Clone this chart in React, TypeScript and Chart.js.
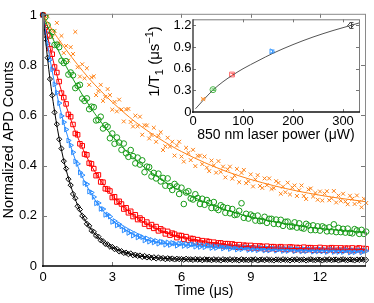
import React, { useEffect, useRef } from 'react';
import { Chart, registerables } from 'chart.js';
Chart.register(...registerables);

const FONT = "'Liberation Sans', Arial, Helvetica, sans-serif";

// sampling times (μs)
const TIME = [
  0, 0.1, 0.2, 0.3, 0.4, 0.5, 0.6, 0.7, 0.8, 0.9,
  1, 1.1, 1.2, 1.3, 1.4, 1.5, 1.6, 1.7, 1.8, 1.9,
  2, 2.1, 2.2, 2.3, 2.4, 2.5, 2.6, 2.7, 2.8, 2.9,
  3, 3.1, 3.2, 3.3, 3.4, 3.5, 3.6, 3.7, 3.8, 3.9,
  4, 4.1, 4.2, 4.3, 4.4, 4.5, 4.6, 4.7, 4.8, 4.9,
  5, 5.1, 5.2, 5.3, 5.4, 5.5, 5.6, 5.7, 5.8, 5.9,
  6, 6.1, 6.2, 6.3, 6.4, 6.5, 6.6, 6.7, 6.8, 6.9,
  7, 7.1, 7.2, 7.3, 7.4, 7.5, 7.6, 7.7, 7.8, 7.9,
  8, 8.1, 8.2, 8.3, 8.4, 8.5, 8.6, 8.7, 8.8, 8.9,
  9, 9.1, 9.2, 9.3, 9.4, 9.5, 9.6, 9.7, 9.8, 9.9,
  10, 10.1, 10.2, 10.3, 10.4, 10.5, 10.6, 10.7, 10.8, 10.9,
  11, 11.1, 11.2, 11.3, 11.4, 11.5, 11.6, 11.7, 11.8, 11.9,
  12, 12.1, 12.2, 12.3, 12.4, 12.5, 12.6, 12.7, 12.8, 12.9,
  13, 13.1, 13.2, 13.3, 13.4, 13.5, 13.6, 13.7, 13.8, 13.9,
  14,
];

const BLACK = [
  1.0, 0.905, 0.83, 0.745, 0.68, 0.612, 0.565, 0.505, 0.468, 0.418,
  0.388, 0.346, 0.322, 0.287, 0.27, 0.238, 0.225, 0.2, 0.19, 0.168,
  0.16, 0.141, 0.136, 0.12, 0.117, 0.102, 0.099, 0.088, 0.086, 0.077,
  0.076, 0.067, 0.068, 0.058, 0.059, 0.052, 0.053, 0.047, 0.05, 0.043,
  0.045, 0.04, 0.042, 0.036, 0.04, 0.034, 0.037, 0.032, 0.035, 0.03,
  0.034, 0.03, 0.032, 0.027, 0.031, 0.028, 0.03, 0.026, 0.029, 0.027,
  0.028, 0.025, 0.029, 0.026, 0.027, 0.024, 0.028, 0.025, 0.027, 0.023,
  0.027, 0.025, 0.026, 0.023, 0.027, 0.024, 0.026, 0.022, 0.027, 0.025,
  0.024, 0.027, 0.023, 0.026, 0.025, 0.022, 0.027, 0.024, 0.025, 0.023,
  0.026, 0.024, 0.027, 0.022, 0.025, 0.026, 0.023, 0.027, 0.024, 0.025,
  0.022, 0.026, 0.025, 0.023, 0.027, 0.024, 0.025, 0.022, 0.026, 0.024,
  0.027, 0.023, 0.025, 0.026, 0.022, 0.025, 0.027, 0.024, 0.023, 0.026,
  0.025, 0.022, 0.026, 0.024, 0.027, 0.023, 0.025, 0.026, 0.022, 0.025,
  0.027, 0.024, 0.023, 0.026, 0.025, 0.022, 0.026, 0.024, 0.027, 0.025,
  0.024,
];

const BLUE = [
  1.0, 0.932, 0.888, 0.822, 0.784, 0.724, 0.691, 0.649, 0.598, 0.573,
  0.544, 0.5, 0.481, 0.453, 0.417, 0.407, 0.373, 0.362, 0.331, 0.326,
  0.297, 0.293, 0.275, 0.25, 0.251, 0.228, 0.227, 0.204, 0.205, 0.197,
  0.176, 0.179, 0.162, 0.166, 0.158, 0.142, 0.147, 0.132, 0.137, 0.121,
  0.128, 0.114, 0.119, 0.115, 0.102, 0.11, 0.097, 0.104, 0.094, 0.1,
  0.089, 0.097, 0.095, 0.085, 0.094, 0.084, 0.092, 0.09, 0.081, 0.089,
  0.09, 0.08, 0.088, 0.08, 0.086, 0.086, 0.077, 0.085, 0.076, 0.083,
  0.075, 0.082, 0.081, 0.072, 0.081, 0.072, 0.079, 0.079, 0.07, 0.076,
  0.076, 0.068, 0.076, 0.074, 0.066, 0.075, 0.067, 0.073, 0.073, 0.064,
  0.073, 0.065, 0.071, 0.063, 0.072, 0.069, 0.062, 0.071, 0.062, 0.069,
  0.069, 0.061, 0.067, 0.069, 0.06, 0.068, 0.06, 0.068, 0.067, 0.059,
  0.067, 0.065, 0.058, 0.067, 0.059, 0.066, 0.065, 0.057, 0.064, 0.058,
  0.066, 0.058, 0.064, 0.056, 0.063, 0.065, 0.056, 0.063, 0.056, 0.064,
  0.056, 0.063, 0.063, 0.054, 0.063, 0.055, 0.061, 0.063, 0.054, 0.061,
  0.06,
];

const RED = [
  1.0, 0.95, 0.921, 0.866, 0.844, 0.793, 0.771, 0.735, 0.689, 0.671,
  0.646, 0.604, 0.595, 0.564, 0.528, 0.523, 0.487, 0.479, 0.446, 0.443,
  0.41, 0.407, 0.388, 0.36, 0.363, 0.335, 0.334, 0.308, 0.306, 0.299,
  0.273, 0.276, 0.255, 0.258, 0.247, 0.227, 0.232, 0.212, 0.218, 0.197,
  0.204, 0.185, 0.191, 0.184, 0.167, 0.175, 0.158, 0.165, 0.15, 0.157,
  0.14, 0.148, 0.142, 0.128, 0.138, 0.123, 0.131, 0.127, 0.113, 0.122,
  0.121, 0.107, 0.117, 0.103, 0.11, 0.109, 0.096, 0.105, 0.094, 0.101,
  0.091, 0.099, 0.097, 0.085, 0.095, 0.084, 0.092, 0.092, 0.08, 0.089,
  0.089, 0.078, 0.088, 0.085, 0.075, 0.085, 0.075, 0.083, 0.082, 0.072,
  0.082, 0.072, 0.08, 0.07, 0.08, 0.078, 0.068, 0.079, 0.068, 0.077,
  0.077, 0.067, 0.075, 0.077, 0.066, 0.075, 0.066, 0.076, 0.075, 0.064,
  0.074, 0.073, 0.064, 0.075, 0.064, 0.073, 0.073, 0.063, 0.072, 0.064,
  0.074, 0.063, 0.072, 0.062, 0.071, 0.073, 0.062, 0.072, 0.063, 0.072,
  0.063, 0.071, 0.071, 0.061, 0.072, 0.062, 0.07, 0.072, 0.061, 0.07,
  0.069,
];

const GREEN = [
  1.0, 0.992, 0.96, 0.918, 0.932, 0.881, 0.882, 0.872, 0.818, 0.809,
  0.816, 0.763, 0.771, 0.76, 0.709, 0.718, 0.722, 0.667, 0.658, 0.668,
  0.625, 0.635, 0.633, 0.58, 0.582, 0.595, 0.548, 0.561, 0.555, 0.509,
  0.528, 0.487, 0.512, 0.492, 0.463, 0.488, 0.449, 0.435, 0.462, 0.438,
  0.409, 0.432, 0.404, 0.421, 0.374, 0.396, 0.394, 0.357, 0.371, 0.349,
  0.368, 0.337, 0.351, 0.32, 0.349, 0.318, 0.303, 0.327, 0.317, 0.287,
  0.312, 0.247, 0.293, 0.298, 0.269, 0.265, 0.286, 0.271, 0.247, 0.268,
  0.244, 0.263, 0.252, 0.231, 0.255, 0.231, 0.223, 0.242, 0.235, 0.212,
  0.231, 0.21, 0.227, 0.203, 0.205, 0.22, 0.25, 0.192, 0.208, 0.189,
  0.205, 0.199, 0.181, 0.201, 0.179, 0.18, 0.196, 0.172, 0.188, 0.188,
  0.168, 0.185, 0.167, 0.184, 0.16, 0.176, 0.177, 0.157, 0.158, 0.174,
  0.153, 0.17, 0.152, 0.149, 0.168, 0.161, 0.143, 0.162, 0.143, 0.158,
  0.141, 0.158, 0.153, 0.138, 0.154, 0.138, 0.166, 0.135, 0.152, 0.135,
  0.148, 0.133, 0.149, 0.132, 0.13, 0.147, 0.142, 0.128, 0.144, 0.128,
  0.137,
];

const ORANGE = [
  1.0, 0.995, 0.995, 0.941, 0.912, 0.937, 0.969, 0.89, 0.917, 0.849,
  0.877, 0.819, 0.872, 0.845, 0.933, 0.792, 0.755, 0.804, 0.748, 0.788,
  0.722, 0.752, 0.756, 0.681, 0.697, 0.722, 0.658, 0.674, 0.705, 0.681,
  0.623, 0.654, 0.616, 0.663, 0.624, 0.576, 0.624, 0.626, 0.574, 0.556,
  0.599, 0.557, 0.595, 0.523, 0.561, 0.56, 0.508, 0.522, 0.551, 0.495,
  0.519, 0.533, 0.462, 0.477, 0.511, 0.476, 0.495, 0.44, 0.48, 0.495,
  0.436, 0.416, 0.471, 0.451, 0.422, 0.463, 0.398, 0.439, 0.44, 0.406,
  0.436, 0.392, 0.378, 0.42, 0.401, 0.372, 0.418, 0.375, 0.396, 0.353,
  0.385, 0.396, 0.348, 0.36, 0.387, 0.334, 0.371, 0.383, 0.33, 0.338,
  0.365, 0.317, 0.345, 0.362, 0.319, 0.311, 0.349, 0.322, 0.349, 0.307,
  0.31, 0.338, 0.331, 0.288, 0.316, 0.294, 0.332, 0.285, 0.313, 0.321,
  0.279, 0.302, 0.321, 0.279, 0.267, 0.305, 0.309, 0.277, 0.291, 0.264,
  0.297, 0.261, 0.289, 0.298, 0.262, 0.27, 0.299, 0.253, 0.281, 0.26,
  0.288, 0.257, 0.246, 0.28, 0.268, 0.247, 0.281, 0.255, 0.234, 0.268,
  0.251,
];

// fitted curves, read at these times
const FIT_T = [0, 0.25, 0.5, 0.75, 1, 1.5, 2, 2.5, 3, 4, 5, 6, 8, 10, 12, 14];
const FIT_BLACK = [1, 0.784, 0.617, 0.485, 0.384, 0.242, 0.157, 0.105, 0.074, 0.043, 0.032, 0.027, 0.025, 0.025, 0.025, 0.025];
const FIT_BLUE = [1, 0.853, 0.729, 0.624, 0.537, 0.399, 0.302, 0.232, 0.182, 0.122, 0.093, 0.085, 0.072, 0.065, 0.061, 0.058];
const FIT_RED = [1, 0.893, 0.797, 0.713, 0.638, 0.514, 0.416, 0.34, 0.28, 0.197, 0.145, 0.115, 0.084, 0.072, 0.068, 0.066];
const FIT_GREEN = [1, 0.944, 0.891, 0.842, 0.796, 0.713, 0.64, 0.575, 0.518, 0.424, 0.353, 0.297, 0.221, 0.176, 0.149, 0.133];
const FIT_ORANGE = [1, 0.963, 0.927, 0.894, 0.862, 0.802, 0.747, 0.698, 0.653, 0.574, 0.51, 0.456, 0.375, 0.32, 0.282, 0.256];

const X_TICKS = [0, 3, 6, 9, 12];
const Y_TICKS = [0, 0.2, 0.4, 0.6, 0.8, 1];

// inset: 1/T1 vs laser power
const INSET_POWER = [20, 40, 78, 157, 315];
const INSET_RATE = [0.18, 0.31, 0.52, 0.84, 1.2];
const INSET_ERR = [0.01, 0.01, 0.015, 0.02, 0.04];
const INSET_FIT_P = [5, 20, 40, 60, 80, 100, 130, 160, 200, 240, 280, 320, 332];
const INSET_FIT_R = [0.045, 0.16, 0.305, 0.42, 0.515, 0.6, 0.71, 0.815, 0.935, 1.04, 1.13, 1.21, 1.235];
const INSET_X_TICKS = [0, 100, 200, 300];
const INSET_Y_TICKS = [0, 0.3, 0.6, 0.9, 1.2];

const C_BLACK = '#000000';
const C_BLUE = '#2b8cff';
const C_RED = '#ff0000';
const C_GREEN = '#169a16';
const C_ORANGE = '#ff8014';

const pts = (xs: number[], ys: number[]) => xs.map((x, i) => ({ x, y: ys[i] }));

function framePlugin(id: string, xt: number[], yt: number[], len: number, styles: any) {
  return {
    id,
    afterDatasetsDraw(chart: any) {
      const { ctx, chartArea } = chart;
      const { left, right, top, bottom } = chartArea;
      const xs = chart.scales.x;
      const ys = chart.scales.y;
      ctx.save();
      ctx.lineWidth = 1;
      ctx.strokeStyle = styles.tick;
      ctx.beginPath();
      for (const v of xt) {
        const p = Math.round(xs.getPixelForValue(v)) + 0.5;
        if (p <= left + 2 || p >= right - 2) continue;
        ctx.moveTo(p, bottom);
        ctx.lineTo(p, bottom - len);
        ctx.moveTo(p, top);
        ctx.lineTo(p, top + len);
      }
      for (const v of yt) {
        const p = Math.round(ys.getPixelForValue(v)) + 0.5;
        if (p <= top + 2 || p >= bottom - 2) continue;
        ctx.moveTo(left, p);
        ctx.lineTo(left + len, p);
        ctx.moveTo(right, p);
        ctx.lineTo(right - len, p);
      }
      ctx.stroke();
      const line = (x1: number, y1: number, x2: number, y2: number, c: string, w: number) => {
        ctx.beginPath();
        ctx.strokeStyle = c;
        ctx.lineWidth = w;
        ctx.moveTo(x1, y1);
        ctx.lineTo(x2, y2);
        ctx.stroke();
      };
      line(left, top + 0.5, right, top + 0.5, styles.top, 1);
      line(right + 0.5, top, right + 0.5, bottom, styles.right, 1);
      line(left, top, left, bottom + 1, styles.left, styles.leftW);
      line(left - 1, bottom, right + 1, bottom, styles.bottom, styles.bottomW);
      ctx.restore();
    },
  };
}

export default function App() {
  const mainRef = useRef<HTMLCanvasElement>(null);
  const insetRef = useRef<HTMLCanvasElement>(null);

  useEffect(() => {
    const series = [
      { d: BLACK, c: C_BLACK, s: 'rectRot', r: 2.6, rot: 0 },
      { d: BLUE, c: C_BLUE, s: 'triangle', r: 2.8, rot: 90 },
      { d: RED, c: C_RED, s: 'rect', r: 3.2, rot: 0 },
      { d: GREEN, c: C_GREEN, s: 'circle', r: 2.8, rot: 0 },
      { d: ORANGE, c: C_ORANGE, s: 'crossRot', r: 2.7, rot: 0 },
    ];
    const fits = [
      { d: FIT_BLACK, c: C_BLACK },
      { d: FIT_BLUE, c: C_BLUE },
      { d: FIT_RED, c: C_RED },
      { d: FIT_GREEN, c: C_GREEN },
      { d: FIT_ORANGE, c: C_ORANGE },
    ];
    const datasets: any[] = [
      ...fits.map((f) => ({
        data: pts(FIT_T, f.d),
        showLine: true,
        borderColor: f.c,
        borderWidth: 1,
        pointRadius: 0,
        cubicInterpolationMode: 'monotone',
      })),
      ...series.map((s) => ({
        data: pts(TIME, s.d),
        showLine: false,
        pointStyle: s.s,
        pointRadius: s.r,
        pointRotation: s.rot,
        pointBorderColor: s.c,
        pointBackgroundColor: 'rgba(0,0,0,0)',
        pointBorderWidth: 1,
        clip: false,
      })),
    ];

    const main = new Chart(mainRef.current as HTMLCanvasElement, {
      type: 'scatter',
      data: { datasets },
      options: {
        responsive: false,
        animation: false,
        devicePixelRatio: 1,
        events: [],
        layout: { padding: { top: 13, right: 9, left: 0, bottom: 0 } },
        plugins: { legend: { display: false }, tooltip: { enabled: false } },
        scales: {
          x: {
            type: 'linear',
            min: 0,
            max: 13.95,
            grid: { display: false, drawTicks: false },
            border: { display: false },
            ticks: { padding: 4, color: '#000', font: { size: 13, family: FONT }, maxRotation: 0, autoSkip: false, callback: (v: any) => String(v) },
            afterBuildTicks: (s: any) => { s.ticks = X_TICKS.map((v) => ({ value: v })); },
            afterFit: (s: any) => { s.height = 37; },
            title: { display: true, text: 'Time (μs)', color: '#000', font: { size: 14, family: FONT }, padding: { top: 0, bottom: 3 } },
          },
          y: {
            type: 'linear',
            min: 0,
            max: 1.005,
            grid: { display: false, drawTicks: false },
            border: { display: false },
            ticks: { padding: 6, color: '#000', font: { size: 13, family: FONT }, autoSkip: false, callback: (v: any) => String(v) },
            afterBuildTicks: (s: any) => { s.ticks = Y_TICKS.map((v) => ({ value: v })); },
            afterFit: (s: any) => { s.width = 43; },
            title: { display: true, text: 'Normalized APD Counts', color: '#000', font: { size: 14.5, family: FONT }, padding: { top: 0, bottom: 0 } },
          },
        },
      } as any,
      plugins: [framePlugin('mainFrame', X_TICKS, Y_TICKS, 4, { tick: '#777', top: '#8a8a8a', right: '#8a8a8a', left: '#808080', leftW: 2, bottom: '#000', bottomW: 1.6 })],
    });

    const insetStyles = ['crossRot', 'circle', 'rect', 'triangle', 'rectRot'];
    const insetColors = ['#ff9a40', '#4cb84c', '#ff6b6b', '#3d9bff', '#444444'];
    const insetPlugin = {
      id: 'insetExtras',
      afterDatasetsDraw(chart: any) {
        const { ctx } = chart;
        const xs = chart.scales.x;
        const ys = chart.scales.y;
        ctx.save();
        ctx.lineWidth = 1;
        INSET_POWER.forEach((p, i) => {
          const x = Math.round(xs.getPixelForValue(p)) + 0.5;
          const y1 = ys.getPixelForValue(INSET_RATE[i] - INSET_ERR[i]);
          const y2 = ys.getPixelForValue(INSET_RATE[i] + INSET_ERR[i]);
          ctx.strokeStyle = insetColors[i];
          ctx.beginPath();
          ctx.moveTo(x, y1);
          ctx.lineTo(x, y2);
          ctx.moveTo(x - 2, y1);
          ctx.lineTo(x + 2, y1);
          ctx.moveTo(x - 2, y2);
          ctx.lineTo(x + 2, y2);
          ctx.stroke();
        });
        ctx.restore();
      },
      afterDraw(chart: any) {
        const { ctx } = chart;
        ctx.save();
        ctx.translate(19, 51.5);
        ctx.rotate(-Math.PI / 2);
        ctx.fillStyle = '#000';
        ctx.textBaseline = 'alphabetic';
        ctx.textAlign = 'left';
        const big = `15px ${FONT}`;
        const small = `11px ${FONT}`;
        const parts: [string, string, number][] = [
          ['1/T', big, 0],
          ['1', small, 4],
          [' (μs', big, 0],
          ['−1', small, -6],
          [')', big, 0],
        ];
        let total = 0;
        for (const [t, f] of parts) { ctx.font = f; total += ctx.measureText(t).width; }
        let x = -total / 2;
        for (const [t, f, dy] of parts) {
          ctx.font = f;
          ctx.fillText(t, x, 5.4 + dy);
          x += ctx.measureText(t).width;
        }
        ctx.restore();
      },
    };

    const inset = new Chart(insetRef.current as HTMLCanvasElement, {
      type: 'scatter',
      data: {
        datasets: [
          {
            data: pts(INSET_FIT_P, INSET_FIT_R),
            showLine: true,
            borderColor: '#555',
            borderWidth: 1,
            pointRadius: 0,
            cubicInterpolationMode: 'monotone',
          },
          {
            data: pts(INSET_POWER, INSET_RATE),
            showLine: false,
            pointStyle: insetStyles,
            pointRotation: [0, 0, 0, 90, 0],
            pointRadius: [3, 3, 3.4, 3, 3],
            pointBorderColor: insetColors,
            pointBackgroundColor: 'rgba(0,0,0,0)',
            pointBorderWidth: 1,
            clip: false,
          },
        ],
      },
      options: {
        responsive: false,
        animation: false,
        devicePixelRatio: 1,
        events: [],
        layout: { padding: { top: 9, right: 15, left: 0, bottom: 0 } },
        plugins: { legend: { display: false }, tooltip: { enabled: false } },
        scales: {
          x: {
            type: 'linear',
            min: 0,
            max: 332,
            grid: { display: false, drawTicks: false },
            border: { display: false },
            ticks: { padding: 2, color: '#000', font: { size: 13, family: FONT }, maxRotation: 0, autoSkip: false, callback: (v: any) => String(v) },
            afterBuildTicks: (s: any) => { s.ticks = INSET_X_TICKS.map((v) => ({ value: v })); },
            afterFit: (s: any) => { s.height = 38; },
            title: { display: true, text: '850 nm laser power (μW)', color: '#000', font: { size: 14, family: FONT }, padding: { top: 0, bottom: 6.6 } },
          },
          y: {
            type: 'linear',
            min: 0,
            max: 1.286,
            grid: { display: false, drawTicks: false },
            border: { display: false },
            ticks: { padding: 1.5, color: '#000', font: { size: 13, family: FONT }, autoSkip: false, callback: (v: any) => String(v) },
            afterBuildTicks: (s: any) => { s.ticks = INSET_Y_TICKS.map((v) => ({ value: v })); },
            afterFit: (s: any) => { s.width = 58; },
          },
        },
      } as any,
      plugins: [
        framePlugin('insetFrame', INSET_X_TICKS, INSET_Y_TICKS, 3, { tick: '#777', top: '#7a7a7a', right: '#7a7a7a', left: '#444', leftW: 1.5, bottom: '#111', bottomW: 1.4 }),
        insetPlugin,
      ],
    });

    return () => {
      main.destroy();
      inset.destroy();
    };
  }, []);

  return (
    <div style={{ position: 'absolute', left: 0, top: 0, width: 374, height: 303, background: '#fff', overflow: 'hidden' }}>
      <canvas ref={mainRef} width={374} height={303} style={{ position: 'absolute', left: 0, top: 0, width: 374, height: 303 }} />
      <canvas ref={insetRef} width={239} height={140} style={{ position: 'absolute', left: 135, top: 10, width: 239, height: 140 }} />
    </div>
  );
}
